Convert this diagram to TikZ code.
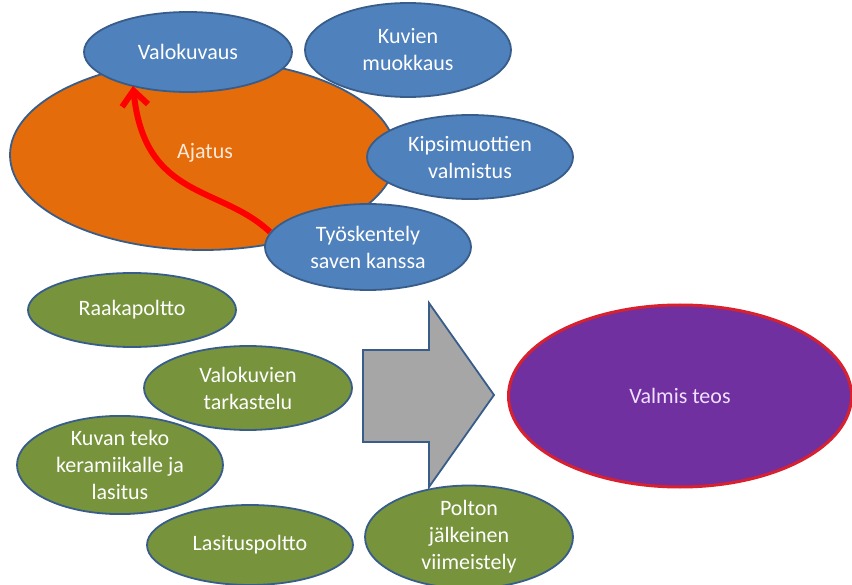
\documentclass[tikz,border=0pt]{standalone}
\usepackage{fontspec}
\setmainfont{Carlito}
\usetikzlibrary{shapes.geometric,arrows.meta}
\definecolor{bluefill}{HTML}{4F81BD}
\definecolor{blueline}{HTML}{385D8A}
\definecolor{orangefill}{HTML}{E46C0A}
\definecolor{greenfill}{HTML}{77933C}
\definecolor{grayfill}{HTML}{A6A6A6}
\definecolor{purplefill}{HTML}{7030A0}
\definecolor{purpleline}{HTML}{D8202E}
\definecolor{ajatustext}{HTML}{FDE9D9}
\definecolor{valmistext}{HTML}{F0E0FF}
\begin{document}
\begin{tikzpicture}[x=1pt,y=-1pt,
  every node/.style={font=\fontsize{22}{27}\selectfont},
  oval/.style={ellipse, inner sep=0pt, align=center, line width=1.8pt},
  bluebox/.style={oval, fill=bluefill, draw=blueline, text=white},
  greenbox/.style={oval, fill=greenfill, draw=blueline, text=white}]
\useasboundingbox[fill=white] (0,0) rectangle (852,585);
% orange idea
\node[oval, fill=orangefill, draw=blueline, minimum width=386pt, minimum height=190pt] (ajatus) at (203,155) {};
\node[text=ajatustext] (ajatustxt) at (205,153) {Ajatus};
% blue ellipses
\node[bluebox, minimum width=208pt, minimum height=80pt] (valo) at (188,52) {Valokuvaus};
\node[bluebox, minimum width=206pt, minimum height=94pt] (kuvien) at (408,50) {Kuvien\\muokkaus};
\node[bluebox, minimum width=206pt, minimum height=84pt] (kipsi) at (470,157) {Kipsimuottien\\valmistus};
% red arrow
\draw[red, line width=6pt, -{Straight Barb[length=15pt,width=26pt]}]
  (368,247) ++(-98,-15) coordinate (arrstart)
  .. controls (220,185) and (145,200) .. (133,86);
\node[bluebox, minimum width=206pt, minimum height=86pt] (tyo) at (368,247) {Työskentely\\saven kanssa};
% green ellipses
\node[greenbox, minimum width=208pt, minimum height=74pt] (raaka) at (132,310) {Raakapoltto};
\node[greenbox, minimum width=208pt, minimum height=84pt] (tark) at (248,388) {Valokuvien\\tarkastelu};
\node[greenbox, minimum width=206pt, minimum height=86pt] (kuvan) at (120,465) {Kuvan teko\\keramiikalle ja\\lasitus};
\node[greenbox, minimum width=206pt, minimum height=80pt] (lasi) at (250,545) {Lasituspoltto};
\node[greenbox, minimum width=208pt, minimum height=84pt] (polton) at (469,537) {Polton\\jälkeinen\\viimeistely};
% gray arrow
\draw[fill=grayfill, draw=blueline, line width=1.8pt, line join=miter]
  (363,350) -- (429,350) -- (429,303) -- (494,395) -- (429,487) -- (429,442) -- (363,442) -- cycle;
% purple result
\node[oval, fill=purplefill, draw=purpleline, line width=3pt, text=valmistext, minimum width=343pt, minimum height=182pt] (valmis) at (680,396) {Valmis teos};
\end{tikzpicture}
\end{document}
